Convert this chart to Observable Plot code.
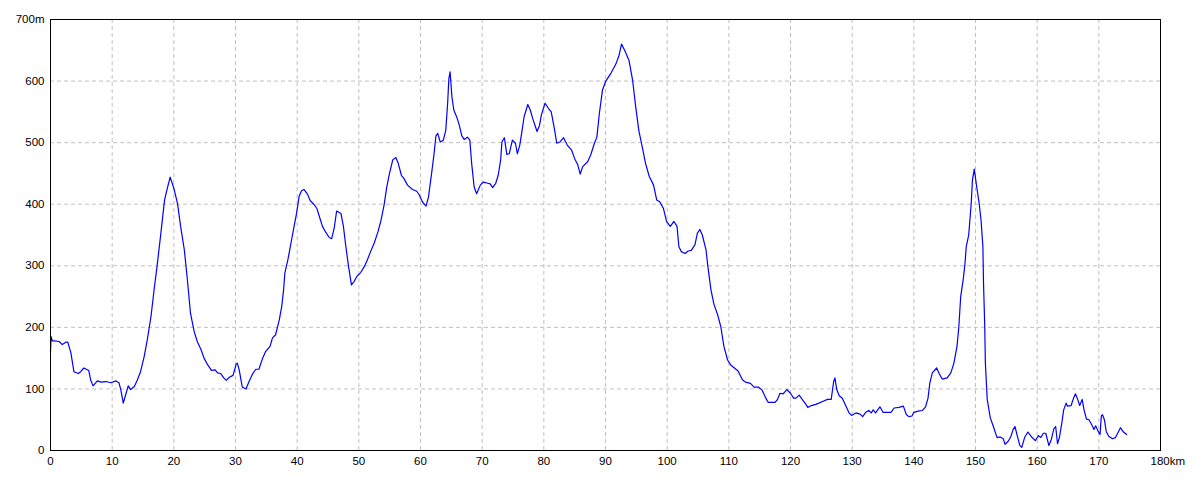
<!DOCTYPE html>
<html>
<head>
<meta charset="utf-8">
<script src="https://cdn.jsdelivr.net/npm/d3@7"></script>
<script src="https://cdn.jsdelivr.net/npm/@observablehq/plot@0.6"></script>
<style>
  html, body { margin: 0; padding: 0; background: #fff; }
  #chart svg { display: block; }
</style>
</head>
<body>
<div id="chart"></div>
<script>
const distanceKm = [
  0, 0.1, 0.3, 0.6, 1.4, 1.9, 2.5, 2.8, 3.3, 3.8, 4.5, 4.9, 5.4, 6.2, 6.5, 6.9, 7.6, 8.2, 9.0, 9.8,
  10.6, 11.1, 11.4, 11.8, 12.2, 12.6, 13.0, 13.6, 14.1, 14.6, 15.2, 15.7, 16.3, 16.8, 17.3, 17.9, 18.5, 19.0, 19.4, 20.0,
  20.6, 21.1, 21.7, 22.2, 22.7, 23.3, 23.8, 24.4, 24.9, 25.5, 26.1, 26.7, 27.1, 27.6, 28.1, 28.5, 29.0, 29.6, 30.1, 30.3,
  30.6, 31.1, 31.7, 32.2, 32.8, 33.3, 33.8, 34.4, 34.9, 35.6, 36.0, 36.5, 37.1, 37.5, 37.8, 38.0, 38.5, 39.0, 39.5, 39.9,
  40.3, 40.7, 41.1, 41.7, 42.1, 42.7, 43.2, 43.6, 44.1, 44.6, 45.2, 45.6, 46.0, 46.4, 47.1, 47.5, 47.9, 48.3, 48.8, 49.2,
  49.7, 50.3, 50.9, 51.4, 51.9, 52.5, 53.1, 53.6, 54.1, 54.5, 54.9, 55.5, 56.0, 56.4, 56.9, 57.3, 57.9, 58.7, 59.4, 59.8,
  60.3, 60.9, 61.3, 61.8, 62.2, 62.5, 62.8, 63.2, 63.7, 64.1, 64.4, 64.6, 64.8, 65.1, 65.4, 65.9, 66.3, 66.7, 67.1, 67.6,
  68.0, 68.3, 68.7, 69.1, 69.7, 70.2, 70.9, 71.3, 71.7, 72.2, 72.6, 73.0, 73.2, 73.6, 74.0, 74.4, 74.9, 75.4, 75.7, 76.1,
  76.4, 76.8, 77.4, 77.8, 78.2, 78.6, 78.9, 79.3, 79.6, 80.2, 80.8, 81.2, 81.7, 82.1, 82.6, 83.2, 83.8, 84.5, 85.0, 85.5,
  85.9, 86.3, 87.1, 87.6, 88.2, 88.6, 89.0, 89.5, 90.0, 90.9, 91.7, 92.2, 92.6, 93.1, 93.8, 94.4, 94.9, 95.4, 96.0, 96.5,
  97.1, 97.8, 98.3, 98.8, 99.4, 99.9, 100.5, 101.1, 101.6, 101.9, 102.3, 102.9, 103.4, 103.9, 104.5, 104.9, 105.3, 105.7, 106.3, 106.6,
  107.1, 107.6, 108.2, 108.7, 109.2, 109.8, 110.3, 110.9, 111.5, 112.2, 112.7, 113.5, 114.1, 114.8, 115.4, 116.0, 116.4, 117.5, 117.9, 118.3,
  118.8, 119.4, 120.0, 120.5, 120.9, 121.4, 121.9, 122.5, 122.8, 123.4, 124.1, 124.6, 125.3, 126.0, 126.6, 127.0, 127.2, 127.5, 127.9, 128.4,
  129.0, 129.5, 129.9, 130.6, 131.3, 131.7, 132.2, 132.7, 133.1, 133.4, 133.8, 134.5, 135.0, 135.6, 136.3, 136.8, 137.6, 138.3, 138.8, 139.2,
  139.7, 140.0, 140.7, 141.4, 141.9, 142.3, 142.6, 143.0, 143.7, 144.1, 144.6, 145.4, 146.0, 146.5, 147.0, 147.3, 147.6, 148.0, 148.3, 148.5,
  148.9, 149.3, 149.5, 149.8, 150.2, 150.6, 150.9, 151.2, 151.3, 151.5, 151.6, 151.9, 152.4, 152.9, 153.5, 154.0, 154.5, 154.8, 155.3, 155.7,
  156.1, 156.4, 156.8, 157.2, 157.5, 158.0, 158.5, 159.1, 159.7, 160.2, 160.6, 161.0, 161.4, 161.9, 162.3, 162.7, 163.0, 163.3, 163.6, 164.0,
  164.3, 164.7, 164.9, 165.5, 165.9, 166.2, 166.5, 166.9, 167.3, 167.6, 168.0, 168.4, 169.0, 169.2, 169.5, 169.9, 170.2, 170.4, 170.6, 170.9,
  171.2, 171.6, 172.2, 172.7, 173.1, 173.5, 174.0, 174.5
];
const elevationM = [
  160, 185, 178, 178, 177, 172, 176, 176, 159, 128, 125, 128, 134, 130, 115, 105, 113, 111, 112, 110,
  113, 110, 99, 77, 91, 105, 99, 104, 115, 128, 153, 180, 218, 261, 301, 353, 407, 428, 444, 426,
  401, 364, 326, 277, 223, 193, 177, 164, 150, 139, 130, 131, 126, 125, 118, 114, 119, 122, 140, 142,
  131, 103, 100, 112, 125, 132, 132, 150, 161, 169, 183, 188, 212, 234, 261, 288, 310, 337, 364, 385,
  412, 422, 424, 416, 406, 400, 393, 380, 364, 355, 346, 344, 361, 389, 385, 364, 331, 301, 269, 274,
  283, 289, 299, 310, 323, 337, 355, 374, 399, 426, 447, 472, 476, 466, 447, 442, 431, 424, 421, 415,
  404, 397, 412, 450, 482, 511, 515, 501, 504, 520, 564, 604, 615, 574, 553, 541, 528, 511, 505, 509,
  504, 466, 428, 417, 431, 436, 434, 433, 427, 434, 447, 472, 501, 508, 481, 482, 504, 499, 482, 496,
  515, 542, 562, 553, 539, 527, 518, 528, 545, 564, 555, 550, 523, 499, 501, 508, 496, 488, 474, 464,
  449, 461, 469, 480, 499, 509, 547, 585, 599, 613, 628, 642, 660, 650, 634, 601, 558, 520, 491, 466,
  445, 431, 407, 404, 393, 372, 364, 372, 364, 331, 323, 320, 324, 325, 334, 353, 359, 350, 326, 299,
  261, 237, 220, 201, 169, 147, 139, 134, 129, 115, 111, 109, 103, 103, 98, 85, 78, 78, 83, 93,
  92, 99, 93, 85, 85, 90, 83, 75, 70, 73, 75, 77, 80, 83, 83, 112, 118, 99, 89, 85,
  72, 61, 57, 61, 59, 55, 62, 65, 61, 66, 61, 71, 62, 62, 62, 69, 70, 72, 58, 55,
  56, 62, 64, 65, 71, 85, 110, 126, 134, 125, 116, 118, 126, 142, 169, 201, 250, 277, 304, 331,
  350, 401, 439, 457, 428, 401, 374, 331, 272, 201, 142, 83, 53, 39, 21, 22, 19, 10, 15, 22,
  34, 39, 23, 8, 5, 22, 30, 22, 16, 24, 21, 28, 28, 8, 18, 35, 39, 11, 21, 45,
  66, 77, 72, 73, 85, 92, 85, 73, 83, 66, 51, 50, 39, 34, 40, 31, 26, 56, 58, 50,
  31, 23, 19, 21, 29, 37, 30, 26
];
const xTicks = [0, 10, 20, 30, 40, 50, 60, 70, 80, 90, 100, 110, 120, 130, 140, 150, 160, 170];
const xGrid = [10, 20, 30, 40, 50, 60, 70, 80, 90, 100, 110, 120, 130, 140, 150, 160, 170];
const yTicks = [0, 100, 200, 300, 400, 500, 600, 700];
const yGrid = [100, 200, 300, 400, 500, 600];
const xEndLabel = ["180km"];

const profile = distanceKm.map((d, i) => ({km: d, m: elevationM[i]}));

const chart = Plot.plot({
  width: 1200,
  height: 480,
  marginLeft: 50,
  marginRight: 40,
  marginTop: 19,
  marginBottom: 30,
  style: {fontFamily: "'Liberation Sans', Arial, sans-serif", fontSize: "11.5px", color: "#000", background: "#fff"},
  x: {domain: [0, 180]},
  y: {domain: [0, 700]},
  marks: [
    Plot.ruleX(xGrid, {stroke: "#c0c0c0", strokeDasharray: "4,3", strokeWidth: 1}),
    Plot.ruleY(yGrid, {stroke: "#c0c0c0", strokeDasharray: "4,3", strokeWidth: 1}),
    Plot.line(profile, {x: "km", y: "m", stroke: "#0000ff", strokeWidth: 1.2}),
    Plot.frame({stroke: "#000", strokeWidth: 1}),
    Plot.axisX(xTicks, {tickSize: 0, tickPadding: 6, label: null, fill: "#000"}),
    Plot.text(xEndLabel, {x: 180, frameAnchor: "bottom", textAnchor: "start", lineAnchor: "top", dx: -10, dy: 6, fill: "#000"}),
    Plot.axisY(yTicks, {tickSize: 0, tickPadding: 6, label: null, fill: "#000",
      tickFormat: d => d === 700 ? "700m" : String(d)})
  ]
});
document.getElementById("chart").appendChild(chart);
</script>
</body>
</html>
